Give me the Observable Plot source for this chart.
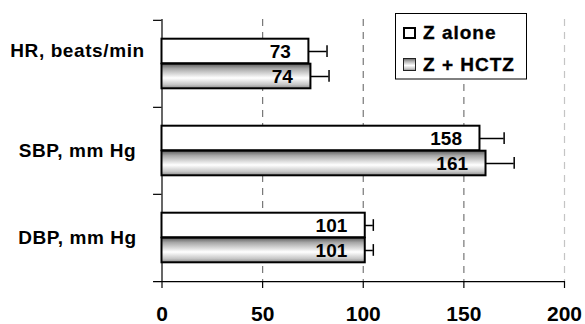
<!DOCTYPE html>
<html>
<head>
<meta charset="utf-8">
<script src="https://cdn.jsdelivr.net/npm/d3@7"></script>
<script src="https://cdn.jsdelivr.net/npm/@observablehq/plot@0.6"></script>
<style>
  html, body { margin: 0; padding: 0; background: #fff; }
  #wrap { position: relative; width: 585px; height: 324px; }
  svg text.lg-text { font-weight: 700 !important; font-family: "Liberation Sans", Arial, sans-serif; font-size: 19px; }
</style>
</head>
<body>
<div id="wrap"></div>
<script>
const categories = ["HR, beats/min", "SBP, mm Hg", "DBP, mm Hg"];
const seriesNames = ["Z alone", "Z + HCTZ"];
const zAlone = [73, 158, 101];
const zAloneErr = [9, 12, 4];
const zHctz = [74, 161, 101];
const zHctzErr = [9, 14, 4];
const xTicks = [0, 50, 100, 150, 200];
const gridTicks = [50, 100, 150, 200];

const rowsA = categories.map((c, i) => ({category: c, value: zAlone[i], err: zAloneErr[i]}));
const rowsB = categories.map((c, i) => ({category: c, value: zHctz[i], err: zHctzErr[i]}));

const half = (281 - 19) / 3 / 2; // half band step (style offset)
const font = '"Liberation Sans", Arial, sans-serif';

const chart = Plot.plot({
  width: 585,
  height: 324,
  marginLeft: 161.5,
  marginRight: 21,
  marginTop: 19,
  marginBottom: 43,
  x: {domain: [0, 200], axis: null},
  y: {domain: categories, padding: 0, axis: null},
  style: {fontFamily: font, background: "white", overflow: "visible", color: "#000"},
  marks: [
    Plot.ruleX(gridTicks, {x: d => d, stroke: d => d === 200 ? "#c4c4c4" : "#777", strokeDasharray: "7,6", strokeWidth: 1.2}),
    Plot.ruleX([0], {x: d => d, stroke: "#000", strokeWidth: 1.2}),
    Plot.ruleY(categories, {y: d => d, x1: -4.2, x2: 0, dy: -half, stroke: "#000", strokeWidth: 1.2}),
    Plot.ruleY([categories[2]], {y: d => d, x1: -4.2, x2: 200, dy: half, stroke: "#000", strokeWidth: 1.2}),
    // error bars
    Plot.ruleY(rowsA, {y: "category", x1: "value", x2: d => d.value + d.err, dy: -12.5, stroke: "#000", strokeWidth: 1.5}),
    Plot.tickX(rowsA, {y: "category", x: d => d.value + d.err, insetTop: 25.2, insetBottom: 50.1, stroke: "#000", strokeWidth: 1.5}),
    Plot.ruleY(rowsB, {y: "category", x1: "value", x2: d => d.value + d.err, dy: 12.5, stroke: "#000", strokeWidth: 1.5}),
    Plot.tickX(rowsB, {y: "category", x: d => d.value + d.err, insetTop: 50.1, insetBottom: 25.2, stroke: "#000", strokeWidth: 1.5}),
    // bars
    Plot.barX(rowsA, {y: "category", x1: 0, x2: "value", fill: "white", stroke: "#000", strokeWidth: 2, insetTop: 18.7, insetBottom: 43.7}),
    Plot.barX(rowsB, {y: "category", x1: 0, x2: "value", fill: "url(#grayGrad)", stroke: "#000", strokeWidth: 2, insetTop: 43.7, insetBottom: 18.7}),
    // bar labels
    Plot.text(rowsA, {y: "category", x: "value", text: d => String(d.value), dy: -12.5, dx: -18, textAnchor: "end", fontSize: 19, fontWeight: "bold", fill: "#000"}),
    Plot.text(rowsB, {y: "category", x: "value", text: d => String(d.value), dy: 12.5, dx: -18, textAnchor: "end", fontSize: 19, fontWeight: "bold", fill: "#000"}),
    // category labels
    Plot.text([categories[0]], {y: d => d, text: d => d, frameAnchor: "left", dx: -84.5, dy: -13.5, textAnchor: "middle", fontSize: 19, fontWeight: "bold", fill: "#000"}),
    Plot.text(categories.slice(1), {y: d => d, text: d => d, frameAnchor: "left", dx: -84.5, textAnchor: "middle", fontSize: 19, fontWeight: "bold", fill: "#000"}),
    // x axis
    Plot.axisX(xTicks, {label: null, tickSize: 7, tickPadding: 18, fontSize: 21, fontWeight: "bold", stroke: "#000", strokeWidth: 1.2, fill: "#000"})
  ]
});

// gradient for the gray bars
const ns = "http://www.w3.org/2000/svg";
const svg = chart.tagName.toLowerCase() === "svg" ? chart : chart.querySelector("svg");
const defs = document.createElementNS(ns, "defs");
const grad = document.createElementNS(ns, "linearGradient");
grad.setAttribute("id", "grayGrad");
grad.setAttribute("x1", "0"); grad.setAttribute("y1", "0");
grad.setAttribute("x2", "0"); grad.setAttribute("y2", "1");
[[0, "#5c5c5c"], [0.2, "#a8a8a8"], [0.58, "#ffffff"], [0.85, "#c6c6c6"], [1, "#8a8a8a"]].forEach(([o, c]) => {
  const s = document.createElementNS(ns, "stop");
  s.setAttribute("offset", o);
  s.setAttribute("stop-color", c);
  grad.appendChild(s);
});
defs.appendChild(grad);
svg.insertBefore(defs, svg.firstChild);

// slight letter spacing for the category labels
d3.select(svg).selectAll("text").filter(function() { return categories.includes(this.textContent); })
  .attr("letter-spacing", "0.6px");

// legend (drawn inside the svg, over the plot)
const lg = d3.select(svg).append("g").attr("class", "legend").attr("text-anchor", "start");
lg.append("rect").attr("x", 395.5).attr("y", 13.5).attr("width", 131).attr("height", 65.5)
  .attr("fill", "#fff").attr("stroke", "#000").attr("stroke-width", 1);
lg.append("rect").attr("x", 404).attr("y", 28).attr("width", 11).attr("height", 10)
  .attr("fill", "#fff").attr("stroke", "#000").attr("stroke-width", 2);
lg.append("rect").attr("x", 403.5).attr("y", 58.5).attr("width", 12).attr("height", 12)
  .attr("fill", "url(#grayGrad)").attr("stroke", "#222").attr("stroke-width", 1);
[[seriesNames[0], 38.7], [seriesNames[1], 71.3]].forEach(([t, y]) => {
  lg.append("text").attr("class", "lg-text").attr("x", 423).attr("y", y)
    .attr("text-anchor", "start").attr("letter-spacing", "1px")
    .attr("fill", "#000").attr("stroke", "#000").attr("stroke-width", 0.35)
    .style("font-weight", "700").text(t);
});

document.getElementById("wrap").appendChild(chart);
</script>
</body>
</html>
